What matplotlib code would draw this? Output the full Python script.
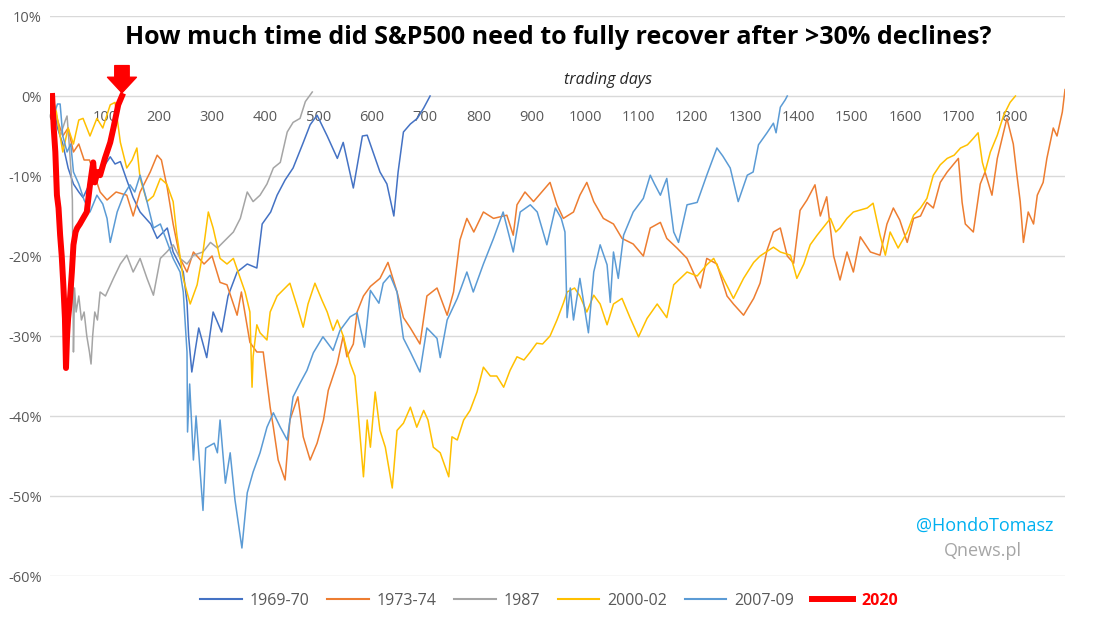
import matplotlib.pyplot as plt
from matplotlib.lines import Line2D

plt.rcParams['font.family'] = ['Open Sans', 'DejaVu Sans']

# drawdown from the pre-crash peak (%), by trading day
s1969 = [(0, 0), (10, -4), (20, -6), (30, -9), (40, -11), (50, -12), (58, -12.7), (70, -11),
         (80, -10), (95, -9), (109, -7.6), (118, -8.5), (128, -8.2), (140, -10.5), (152, -12.7),
         (165, -14.5), (185, -16), (197, -17.8), (216, -16.5), (227, -19.5), (246, -22),
         (253, -25.8), (256, -30), (262, -34.5), (275, -29), (290, -32.7), (302, -27),
         (318, -29.5), (330, -25), (347, -22), (366, -21), (384, -21.5), (394, -16),
         (410, -14.5), (422, -12.4), (437, -10.5), (452, -9), (470, -6), (484, -3.6),
         (497, -2.4), (516, -5), (535, -7.8), (546, -5.8), (565, -11.5), (582, -5), (591, -4.9),
         (615, -9.5), (628, -11), (641, -15), (649, -9.5), (659, -4.5), (672, -3.5),
         (685, -2.8), (697, -1.5), (709, 0)]

s1973 = [(0, 0), (10, -3), (20, -5), (30, -4), (40, -7), (50, -6), (60, -8), (70, -8), (80, -10),
         (90, -12), (103, -13), (120, -12), (140, -12.4), (152, -15), (165, -12), (184, -9.5),
         (197, -7.4), (205, -8), (216, -11.5), (227, -16), (240, -20.3), (253, -22), (265, -19.5),
         (285, -21), (300, -20), (315, -23.3), (328, -23.6), (347, -27.4), (355, -24.5),
         (371, -30.8), (384, -32), (396, -32), (409, -38.9), (415, -41.4), (424, -45.5),
         (437, -48), (446, -40.5), (461, -37.6), (471, -42.6), (484, -45.5), (497, -43.4),
         (509, -40.5), (518, -36.8), (535, -33.4), (546, -30), (553, -32.6), (565, -31),
         (572, -27), (584, -25), (597, -23.8), (615, -22.8), (630, -20.8), (647, -24.5),
         (659, -27.7), (672, -29), (690, -31), (703, -25), (722, -24), (741, -27.4), (753, -24.5),
         (765, -18), (778, -15.3), (791, -17), (809, -14.5), (828, -15.3), (853, -14.9),
         (865, -17.4), (872, -13.6), (887, -12), (903, -13.2), (934, -10.8), (947, -13.6),
         (959, -15.3), (978, -14.5), (990, -12.4), (1003, -10.8), (1016, -13.2), (1034, -15.3),
         (1053, -16), (1069, -17.8), (1090, -18.5), (1109, -20), (1122, -16.5), (1141, -15.8),
         (1153, -17.8), (1172, -19), (1191, -20.3), (1216, -24), (1228, -20.3), (1247, -21),
         (1266, -25), (1278, -26), (1297, -27.4), (1316, -25.3), (1328, -23.4), (1341, -19.3),
         (1353, -17), (1366, -16.5), (1379, -20), (1391, -20.9), (1403, -14.3), (1416, -13),
         (1431, -11.1), (1441, -15), (1453, -12.6), (1466, -20), (1478, -23), (1491, -19.5),
         (1503, -22), (1516, -17.6), (1535, -19.5), (1553, -19.9), (1566, -16), (1578, -14),
         (1590, -15.5), (1604, -18.3), (1616, -15.3), (1629, -15), (1641, -13.3), (1653, -14),
         (1666, -10.8), (1679, -9.5), (1700, -7.8), (1707, -13.3), (1713, -16), (1728, -17),
         (1741, -11), (1750, -9.5), (1763, -12.4), (1773, -7.8), (1785, -4.5), (1791, -2.8),
         (1803, -6), (1810, -10), (1816, -13.2), (1822, -18.3), (1831, -14.5), (1841, -16),
         (1848, -12.4), (1859, -10.8), (1866, -7.8), (1878, -4), (1885, -5), (1895, -2), (1900, 0.8)]

s1987 = [(0, 0), (5, -2), (10, -3), (15, -5), (20, -4), (25, -3), (28, -2.5), (32, -6), (36, -10),
         (38, -13), (40, -32), (42, -24), (45, -27), (50, -25), (55, -28), (60, -27), (65, -30),
         (70, -32), (73, -33.5), (76, -30), (80, -27), (85, -28), (90, -24.5), (100, -25),
         (115, -22.8), (128, -21), (140, -19.9), (152, -22), (165, -20.3), (178, -22.8),
         (190, -24.9), (203, -20.3), (215, -19.5), (227, -18.6), (240, -20.3), (253, -21),
         (265, -19.9), (283, -19.5), (297, -18.3), (310, -19), (328, -17.8), (340, -17),
         (353, -15.3), (366, -12), (377, -13.2), (390, -12.4), (403, -11), (415, -9),
         (428, -8.3), (441, -4.5), (452, -3.3), (465, -2.8), (475, -0.7), (488, 0.5)]

s2000 = [(0, 0), (8, -2), (15, -5), (20, -7), (30, -4), (40, -6), (50, -3), (58, -2.8), (71, -5),
         (84, -2.8), (95, -4), (109, -1.1), (118, -0.8), (128, -5.8), (140, -9), (150, -8),
         (159, -6.5), (165, -10.3), (178, -13.2), (190, -12.5), (203, -10.3), (215, -11),
         (227, -13.2), (234, -17.4), (246, -22.8), (259, -26), (272, -23.6), (283, -19.5),
         (293, -14.5), (302, -16.5), (315, -20.3), (328, -21), (340, -20.3), (353, -22.8),
         (362, -24.5), (371, -27), (375, -36.4), (377, -32.6), (384, -28.6), (390, -29.6),
         (403, -30.5), (409, -27), (422, -25), (446, -23.4), (460, -26.4), (471, -28.9),
         (480, -26), (493, -23.4), (506, -25.5), (516, -27), (527, -29.3), (535, -28), (546, -30),
         (559, -33.4), (568, -35), (574, -39.6), (584, -47.6), (591, -40.5), (597, -43.9),
         (606, -37), (615, -41.8), (625, -43.9), (638, -49), (647, -41.8), (659, -40.9),
         (672, -38.9), (684, -41.4), (697, -39.3), (705, -40.5), (715, -43.9), (728, -44.6),
         (744, -47.6), (750, -42.6), (760, -43), (772, -40.5), (784, -39.3), (797, -37),
         (809, -33.9), (822, -35), (834, -35), (847, -36.4), (859, -34.3), (872, -32.6),
         (885, -33), (897, -32), (909, -30.9), (920, -31), (934, -30), (947, -28), (959, -25.9),
         (966, -24.5), (980, -24), (990, -25), (1003, -27), (1016, -24.9), (1028, -26),
         (1041, -28.6), (1053, -26), (1069, -25.3), (1084, -27.7), (1100, -30.1), (1116, -27.8),
         (1135, -26), (1153, -27.7), (1166, -23.6), (1191, -22), (1210, -22.5), (1228, -21.1),
         (1241, -20.3), (1259, -22.8), (1278, -25.3), (1297, -22.8), (1316, -20.8), (1328, -20),
         (1353, -18.9), (1366, -19.5), (1385, -19.9), (1397, -22.8), (1410, -21), (1422, -18.6),
         (1435, -17.4), (1460, -15.3), (1470, -17), (1478, -16.5), (1491, -15.3), (1503, -14.5),
         (1529, -14), (1540, -13.4), (1553, -17.4), (1563, -19.9), (1572, -17), (1587, -19),
         (1604, -17), (1616, -14.9), (1629, -14), (1641, -12.8), (1653, -9.9), (1666, -8.6),
         (1679, -7.8), (1692, -7.4), (1704, -6.5), (1717, -6.1), (1728, -5.3), (1737, -4.6),
         (1745, -8.3), (1750, -9.5), (1760, -7), (1773, -4.9), (1785, -2.4), (1797, -0.8), (1807, 0)]

s2007 = [(0, 0), (5, -2), (10, -1), (15, -1), (20, -5), (28, -7), (35, -6), (40, -9.5), (50, -11),
         (60, -13), (71, -14.5), (84, -12.4), (95, -13.5), (103, -15.3), (109, -18.3),
         (122, -14.5), (134, -12.4), (146, -11.1), (155, -12), (165, -9.9), (178, -13.2),
         (190, -16.5), (203, -16), (216, -18.3), (227, -20.3), (240, -22), (246, -24.5),
         (253, -32), (254, -42), (258, -36), (265, -45.5), (270, -40), (283, -51.8), (288, -44),
         (304, -43.4), (310, -44.6), (315, -40.5), (325, -48.4), (334, -44.6), (343, -50.5),
         (356, -56.5), (366, -49.6), (377, -47), (390, -44.6), (403, -41.4), (415, -39.6),
         (428, -41.4), (441, -43), (452, -37.6), (465, -35.9), (478, -34.3), (490, -32.1),
         (508, -30.1), (527, -31.8), (540, -29.3), (559, -27.6), (572, -27.1), (586, -31.4),
         (597, -24.3), (613, -25.9), (621, -23.4), (634, -22.4), (647, -24.5), (659, -30.3),
         (672, -32), (690, -34.5), (703, -29), (722, -30.3), (728, -32.7), (741, -28),
         (760, -25.3), (778, -22), (790, -24.5), (809, -21), (828, -17.8), (846, -14.5),
         (865, -19.5), (878, -14.5), (897, -13.6), (910, -14.5), (928, -18.6), (944, -14),
         (955, -15.3), (962, -17), (966, -27.7), (972, -24), (978, -28), (990, -22.8),
         (1006, -29.6), (1016, -22), (1028, -18.6), (1041, -21.1), (1047, -25.8), (1053, -19.5),
         (1062, -22.8), (1072, -17.4), (1090, -14.5), (1109, -12.8), (1122, -9.9), (1130, -11),
         (1141, -12.4), (1153, -10.3), (1166, -17), (1175, -18.3), (1191, -13.6), (1210, -13.3),
         (1228, -9.9), (1247, -6.5), (1258, -7.5), (1272, -9), (1287, -13.2), (1304, -9.9),
         (1315, -9.5), (1325, -6.1), (1341, -4.6), (1353, -3.4), (1358, -4.6), (1366, -1.4),
         (1375, -0.5), (1379, 0)]

s2020 = [(0, 0), (3, -4), (6, -7), (9, -12.4), (12, -14), (15, -17.4), (18, -20), (21, -23.6),
         (24, -27.8), (26, -34), (28, -30), (30, -27.8), (33, -25.8), (37, -22), (40, -18.6),
         (44, -17), (47, -16.5), (52, -16), (58, -15.3), (65, -14.5), (71, -11.1), (77, -8.3),
         (80, -10.8), (85, -9.5), (90, -9.9), (99, -7.8), (109, -5.8), (115, -4), (124, -1.1),
         (131, 0)]

series = [("1969-70", s1969, "#4472C4", 1.1),
          ("1973-74", s1973, "#ED7D31", 1.1),
          ("1987", s1987, "#A5A5A5", 1.1),
          ("2000-02", s2000, "#FFC000", 1.1),
          ("2007-09", s2007, "#5B9BD5", 1.1),
          ("2020", s2020, "#FF0000", 4.3)]

fig = plt.figure(figsize=(11.03, 6.2), dpi=100)
ax = fig.add_axes([50 / 1103, 1 - 576 / 620, 1015 / 1103, 560 / 620])

for label, pts, col, lw in series:
    xs, ys = zip(*pts)
    ax.plot(xs, ys, color=col, lw=lw, label=label, solid_joinstyle='round')

ax.set_xlim(-4, 1900)
ax.set_ylim(-60, 10)
ax.set_yticks(range(-60, 11, 10))
ax.set_yticklabels([f"{v}%" for v in range(-60, 11, 10)])
ax.set_xticks(range(0, 1801, 100))
ax.grid(axis='y', color='#D9D9D9', lw=1)
ax.set_axisbelow(True)
for s in ['top', 'right', 'left']:
    ax.spines[s].set_visible(False)
ax.spines['bottom'].set_position(('data', 0))
ax.spines['bottom'].set_visible(False)
ax.tick_params(axis='both', length=0, labelsize=10.5, labelcolor='#595959')
ax.tick_params(axis='x', pad=10)
ax.tick_params(axis='y', pad=6)

# red arrow marking 2020 recovery
ax.annotate('', xy=(131, 0.4), xytext=(131, 3.8),
            arrowprops=dict(arrowstyle='simple,head_length=0.7,head_width=1.3,tail_width=0.65',
                            color='#FF0000', mutation_scale=16, shrinkA=0, shrinkB=0))

fig.text(558 / 1103, 1 - 38 / 620, "How much time did S&P500 need to fully recover after >30% declines?",
         ha='center', va='center', fontsize=18, fontweight='bold', color='black')
fig.text(608 / 1103, 1 - 80 / 620, "trading days", ha='center', va='center',
         fontsize=11.5, style='italic', color='#262626')
fig.text(985 / 1103, 1 - 526 / 620, "@HondoTomasz", ha='center', va='center',
         fontsize=13, color='#00B0F0')
fig.text(983 / 1103, 1 - 551 / 620, "Qnews.pl", ha='center', va='center',
         fontsize=13, color='#A6A6A6')

handles = [Line2D([0], [0], color=c, lw=(1.5 if lw < 2 else 4.3)) for _, _, c, lw in series]
leg = fig.legend(handles, [s[0] for s in series], loc='center', ncol=6,
                 bbox_to_anchor=(549 / 1103, 1 - 601 / 620), frameon=False,
                 fontsize=11.5, handlelength=2.6, handletextpad=0.5, columnspacing=1.1)
for t in leg.get_texts():
    t.set_color('#595959')
leg.get_texts()[-1].set_color('#FF0000')
leg.get_texts()[-1].set_fontweight('bold')

fig.savefig("out.png", dpi=100)
